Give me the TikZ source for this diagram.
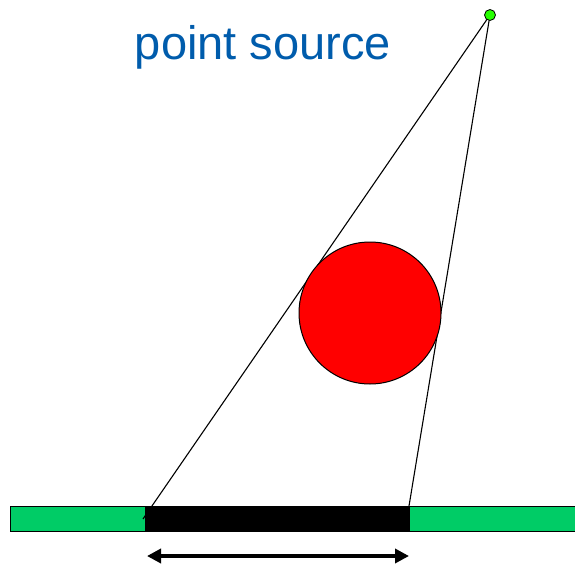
\documentclass[tikz,border=0pt]{standalone}
\usepackage{fontspec}
\setmainfont{Liberation Sans}
\usetikzlibrary{positioning, calc, arrows.meta}

\definecolor{srcblue}{RGB}{0,92,172}
\definecolor{detgreen}{RGB}{0,204,102}
\definecolor{ballred}{RGB}{255,0,0}

\begin{document}
\begin{tikzpicture}[x=1pt, y=-1pt,
    ray/.style={line width=1.1pt},
    widthArrow/.style={line width=4pt, {Triangle[length=14pt,width=14pt]}-{Triangle[length=14pt,width=14pt]}}]
    \useasboundingbox (0,0) rectangle (575,567);

    % Detector strip
    \fill[detgreen, draw=black, line width=1pt] (10,506) rectangle (575,531);
    % Shadow on the detector
    \fill[black] (145,506) rectangle (410,531);

    % Point source and its rays
    \coordinate (src) at (490,15);
    \coordinate (shadowL) at (143,519);
    \coordinate (shadowR) at (409,506);
    \draw[ray] (src) -- (shadowL);
    \draw[ray] (src) -- (shadowR);
    \fill[green!80!lime, draw=black, line width=0.8pt] (src) circle (5.5);

    % Object
    \fill[ballred, draw=black, line width=1pt] (370,313) circle (71);

    % Shadow width
    \coordinate (arrL) at (147,556);
    \coordinate (arrR) at (409,556);
    \draw[widthArrow] (arrL) -- (arrR);

    % Label
    \node[text=srcblue, font=\fontsize{47}{50}\selectfont] (lbl) at (263,47) {point source};
\end{tikzpicture}
\end{document}
